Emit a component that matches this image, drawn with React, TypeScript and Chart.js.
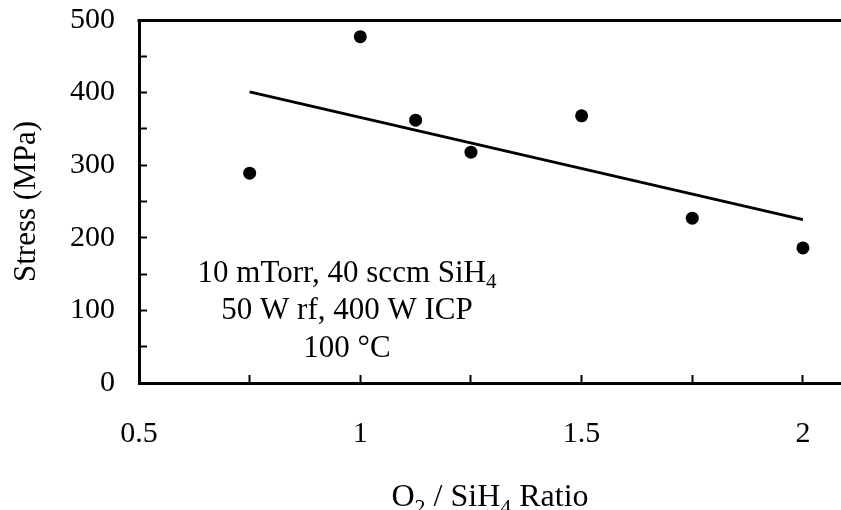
import React, { useEffect, useRef } from "react";
import { Chart, registerables } from "chart.js";

Chart.register(...registerables);

// ---- data ----
const ratio = [0.75, 1.0, 1.125, 1.25, 1.5, 1.75, 2.0];
const stress = [289, 477, 362, 318, 368, 227, 186];
const fitX = [0.75, 2.0];
const fitY = [401, 225];

const xTickValues = [0.5, 0.75, 1.0, 1.25, 1.5, 1.75, 2.0];
const xTickLabels = [0.5, 1, 1.5, 2];
const yTickValues = [0, 50, 100, 150, 200, 250, 300, 350, 400, 450, 500];
const yTickLabels = [0, 100, 200, 300, 400, 500];

const yTitle = "Stress (MPa)";
type Seg = { t: string; sub?: boolean };
const xTitle: Seg[] = [
  { t: "O" },
  { t: "2", sub: true },
  { t: " / SiH" },
  { t: "4", sub: true },
  { t: " Ratio" },
];
const annotationLines: Seg[][] = [
  [{ t: "10 mTorr, 40 sccm SiH" }, { t: "4", sub: true }],
  [{ t: "50 W rf, 400 W ICP" }],
  [{ t: "100 °C" }],
];

const FONT = "'Liberation Serif', 'Times New Roman', serif";

function drawRich(
  ctx: CanvasRenderingContext2D,
  segs: Seg[],
  cx: number,
  baseline: number,
  size: number,
  subOffset: number
) {
  const subSize = Math.round(size * 0.68);
  const widths = segs.map((s) => {
    ctx.font = `${s.sub ? subSize : size}px ${FONT}`;
    return ctx.measureText(s.t).width;
  });
  const total = widths.reduce((a, b) => a + b, 0);
  let x = cx - total / 2;
  ctx.textAlign = "left";
  ctx.textBaseline = "alphabetic";
  ctx.fillStyle = "#000";
  segs.forEach((s, i) => {
    ctx.font = `${s.sub ? subSize : size}px ${FONT}`;
    ctx.fillText(s.t, x, s.sub ? baseline + subOffset : baseline);
    x += widths[i];
  });
}

const decorPlugin = {
  id: "decor",
  afterDraw(chart: any) {
    const { ctx, chartArea } = chart;
    ctx.save();
    // top frame line
    ctx.strokeStyle = "#000";
    ctx.lineWidth = 3;
    ctx.beginPath();
    ctx.moveTo(chartArea.left - 1.5, chartArea.top + 0.5);
    ctx.lineTo(chartArea.right, chartArea.top + 0.5);
    ctx.stroke();
    // annotation
    const cx = 347;
    const baselines = [282, 319, 357];
    annotationLines.forEach((line, i) => {
      drawRich(ctx, line, cx, baselines[i], 31, 6);
    });
    // x axis title
    const titleCx = (chartArea.left + chartArea.right) / 2;
    drawRich(ctx, xTitle, titleCx, 506, 32, 8);
    ctx.restore();
  },
};

export default function App() {
  const ref = useRef<HTMLCanvasElement | null>(null);

  useEffect(() => {
    if (!ref.current) return;
    const chart = new Chart(ref.current, {
      type: "scatter",
      data: {
        datasets: [
          {
            label: "fit",
            data: fitX.map((x, i) => ({ x, y: fitY[i] })),
            showLine: true,
            borderColor: "#000",
            borderWidth: 3,
            pointRadius: 0,
            fill: false,
          },
          {
            label: "Stress",
            data: ratio.map((x, i) => ({ x, y: stress[i] })),
            showLine: false,
            pointRadius: 6.5,
            pointBackgroundColor: "#000",
            pointBorderColor: "#000",
            pointBorderWidth: 0,
          },
        ],
      },
      options: {
        responsive: false,
        animation: false,
        layout: { autoPadding: false, padding: { left: 0, right: 0, top: 20, bottom: 0 } },
        plugins: {
          legend: { display: false },
          tooltip: { enabled: false },
          title: { display: false },
        },
        scales: {
          x: {
            type: "linear",
            min: 0.5,
            max: 2.086,
            afterBuildTicks: (scale: any) => {
              scale.ticks = xTickValues.map((v) => ({ value: v }));
            },
            afterFit: (scale: any) => {
              scale.height = 127;
              scale.paddingLeft = 0;
              scale.paddingRight = 0;
              scale.paddingTop = 0;
              scale.paddingBottom = 0;
            },
            border: { display: true, color: "#000", width: 3 },
            grid: {
              display: true,
              drawOnChartArea: false,
              drawTicks: true,
              tickLength: -8,
              tickWidth: 2,
              tickColor: "#000",
              color: "#000",
            },
            ticks: {
              autoSkip: false,
              maxRotation: 0,
              padding: 41,
              color: "#000",
              font: { family: FONT, size: 30 },
              callback: (v: any) =>
                xTickLabels.some((t) => Math.abs(t - Number(v)) < 1e-9) ? String(v) : "",
            },
          },
          y: {
            type: "linear",
            min: 0,
            max: 500,
            afterBuildTicks: (scale: any) => {
              scale.ticks = yTickValues.map((v) => ({ value: v }));
            },
            afterFit: (scale: any) => {
              scale.width = 139;
              scale.paddingLeft = 0;
              scale.paddingRight = 0;
              scale.paddingTop = 0;
              scale.paddingBottom = 0;
            },
            border: { display: true, color: "#000", width: 3 },
            grid: {
              display: true,
              drawOnChartArea: false,
              drawTicks: true,
              tickLength: -8,
              tickWidth: 2,
              tickColor: "#000",
              color: "#000",
            },
            ticks: {
              autoSkip: false,
              padding: 32,
              color: "#000",
              font: { family: FONT, size: 30 },
              callback: (v: any) =>
                yTickLabels.some((t) => Math.abs(t - Number(v)) < 1e-9) ? String(v) : "",
            },
            title: {
              display: true,
              text: yTitle,
              color: "#000",
              font: { family: FONT, size: 31, lineHeight: 1 },
              padding: { top: 11, bottom: 0 },
            },
          },
        },
      },
      plugins: [decorPlugin],
    });
    return () => chart.destroy();
  }, []);

  return (
    <div style={{ position: "absolute", left: 0, top: 0, width: 841, height: 510, background: "#fff" }}>
      <canvas ref={ref} width={841} height={510} style={{ display: "block" }} />
    </div>
  );
}
